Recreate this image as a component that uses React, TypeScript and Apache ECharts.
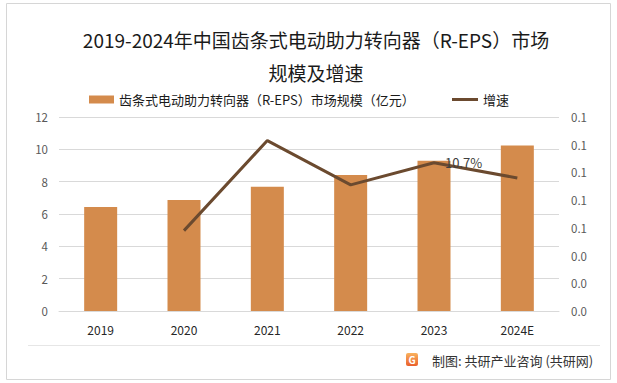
import React, { useEffect, useRef } from "react";
import * as echarts from "echarts";

const categories = ["2019", "2020", "2021", "2022", "2023", "2024E"];
const marketSize = [6.44, 6.87, 7.68, 8.42, 9.29, 10.24];
const growth: (number | null)[] = [null, 0.058, 0.123, 0.091, 0.107, 0.096];
const growthLabels = ["", "", "", "", "10.7%", ""];
const barName = "齿条式电动助力转向器（R-EPS）市场规模（亿元）";
const lineName = "增速";
const titleLine1 = "2019-2024年中国齿条式电动助力转向器（R-EPS）市场";
const titleLine2 = "规模及增速";
const footerText = "制图: 共研产业咨询 (共研网)";

const FONT = '"Noto Sans CJK SC", "Noto Sans", sans-serif';
const BAR_COLOR = "#D48B4C";
const LINE_COLOR = "#6B4A2F";

export default function App() {
  const ref = useRef<HTMLDivElement>(null);
  useEffect(() => {
    document.body.style.margin = "0";
    if (!ref.current) return;
    const chart = echarts.init(ref.current, undefined, { renderer: "svg" });
    chart.setOption({
      animation: false,
      backgroundColor: "#ffffff",
      textStyle: { fontFamily: FONT },
      graphic: [
        {
          type: "rect",
          shape: { x: 6.5, y: 3.5, width: 604, height: 376 },
          style: { fill: "none", stroke: "#d6d6d6", lineWidth: 1 },
          silent: true,
        },
        {
          type: "text",
          x: 316,
          y: 39,
          style: {
            text: titleLine1,
            fill: "#1a1a1a",
            font: `19px ${FONT}`,
            textAlign: "center",
            textVerticalAlign: "middle",
            align: "center",
            verticalAlign: "middle",
          },
        },
        {
          type: "text",
          x: 316,
          y: 72,
          style: {
            text: titleLine2,
            fill: "#1a1a1a",
            font: `19px ${FONT}`,
            textAlign: "center",
            textVerticalAlign: "middle",
            align: "center",
            verticalAlign: "middle",
          },
        },
        {
          type: "line",
          shape: { x1: 28, y1: 345.5, x2: 600, y2: 345.5 },
          style: { stroke: "#e6e6e6", lineWidth: 1 },
        },
        {
          type: "rect",
          shape: { x: 406, y: 353, width: 12, height: 13, r: 2 },
          style: {
            fill: new echarts.graphic.LinearGradient(0, 0, 0, 1, [
              { offset: 0, color: "#F9B25E" },
              { offset: 1, color: "#EA5F2B" },
            ]),
          },
        },
        {
          type: "text",
          x: 412,
          y: 359.5,
          style: {
            text: "G",
            fill: "#ffffff",
            font: `bold 10px ${FONT}`,
            textAlign: "center",
            textVerticalAlign: "middle",
            align: "center",
            verticalAlign: "middle",
          },
        },
        {
          type: "text",
          x: 432,
          y: 360,
          style: {
            text: footerText,
            fill: "#333333",
            font: `13px ${FONT}`,
            textAlign: "left",
            textVerticalAlign: "middle",
            align: "left",
            verticalAlign: "middle",
          },
        },
      ],
      legend: [
        {
          data: [barName],
          left: 89,
          top: 93,
          padding: 0,
          itemWidth: 25,
          itemHeight: 8,
          itemGap: 5,
          icon: "rect",
          textStyle: { fontSize: 13, color: "#1a1a1a", fontFamily: FONT },
        },
        {
          data: [{ name: lineName, icon: "rect" }],
          left: 452,
          top: 93,
          padding: 0,
          itemWidth: 26,
          itemHeight: 3,
          icon: "rect",
          textStyle: { fontSize: 13, color: "#1a1a1a", fontFamily: FONT },
        },
      ],
      grid: { left: 59, right: 58, top: 117, bottom: 72, containLabel: false },
      xAxis: {
        type: "category",
        data: categories,
        axisLine: { show: true, lineStyle: { color: "#d9d9d9", width: 1 } },
        axisTick: { show: false },
        axisLabel: { color: "#262626", fontSize: 12, margin: 12, fontFamily: FONT },
      },
      yAxis: [
        {
          type: "value",
          min: 0,
          max: 12,
          interval: 2,
          axisLine: { show: false },
          axisTick: { show: false },
          axisLabel: { color: "#595959", fontSize: 11.5, margin: 11 },
          splitLine: { lineStyle: { color: "#d9d9d9", width: 1 } },
        },
        {
          type: "value",
          min: 0,
          max: 0.14,
          interval: 0.02,
          axisLine: { show: false },
          axisTick: { show: false },
          splitLine: { show: false },
          axisLabel: {
            color: "#595959",
            fontSize: 11.5,
            margin: 12,
            formatter: (v: number) => v.toFixed(1),
          },
        },
      ],
      series: [
        {
          name: barName,
          type: "bar",
          data: marketSize,
          barWidth: 33,
          itemStyle: { color: BAR_COLOR },
        },
        {
          name: lineName,
          type: "line",
          yAxisIndex: 1,
          data: growth,
          symbol: "circle",
          symbolSize: 0.1,
          showSymbol: true,
          connectNulls: false,
          lineStyle: { color: LINE_COLOR, width: 3 },
          itemStyle: { color: LINE_COLOR },
          label: {
            show: true,
            position: "right",
            distance: 11,
            color: "#404040",
            fontSize: 13,
            formatter: (p: any) => growthLabels[p.dataIndex],
          },
        },
      ],
    });
    return () => chart.dispose();
  }, []);
  return (
    <div
      ref={ref}
      style={{ width: 617, height: 383, position: "fixed", left: 0, top: 0 }}
    />
  );
}
